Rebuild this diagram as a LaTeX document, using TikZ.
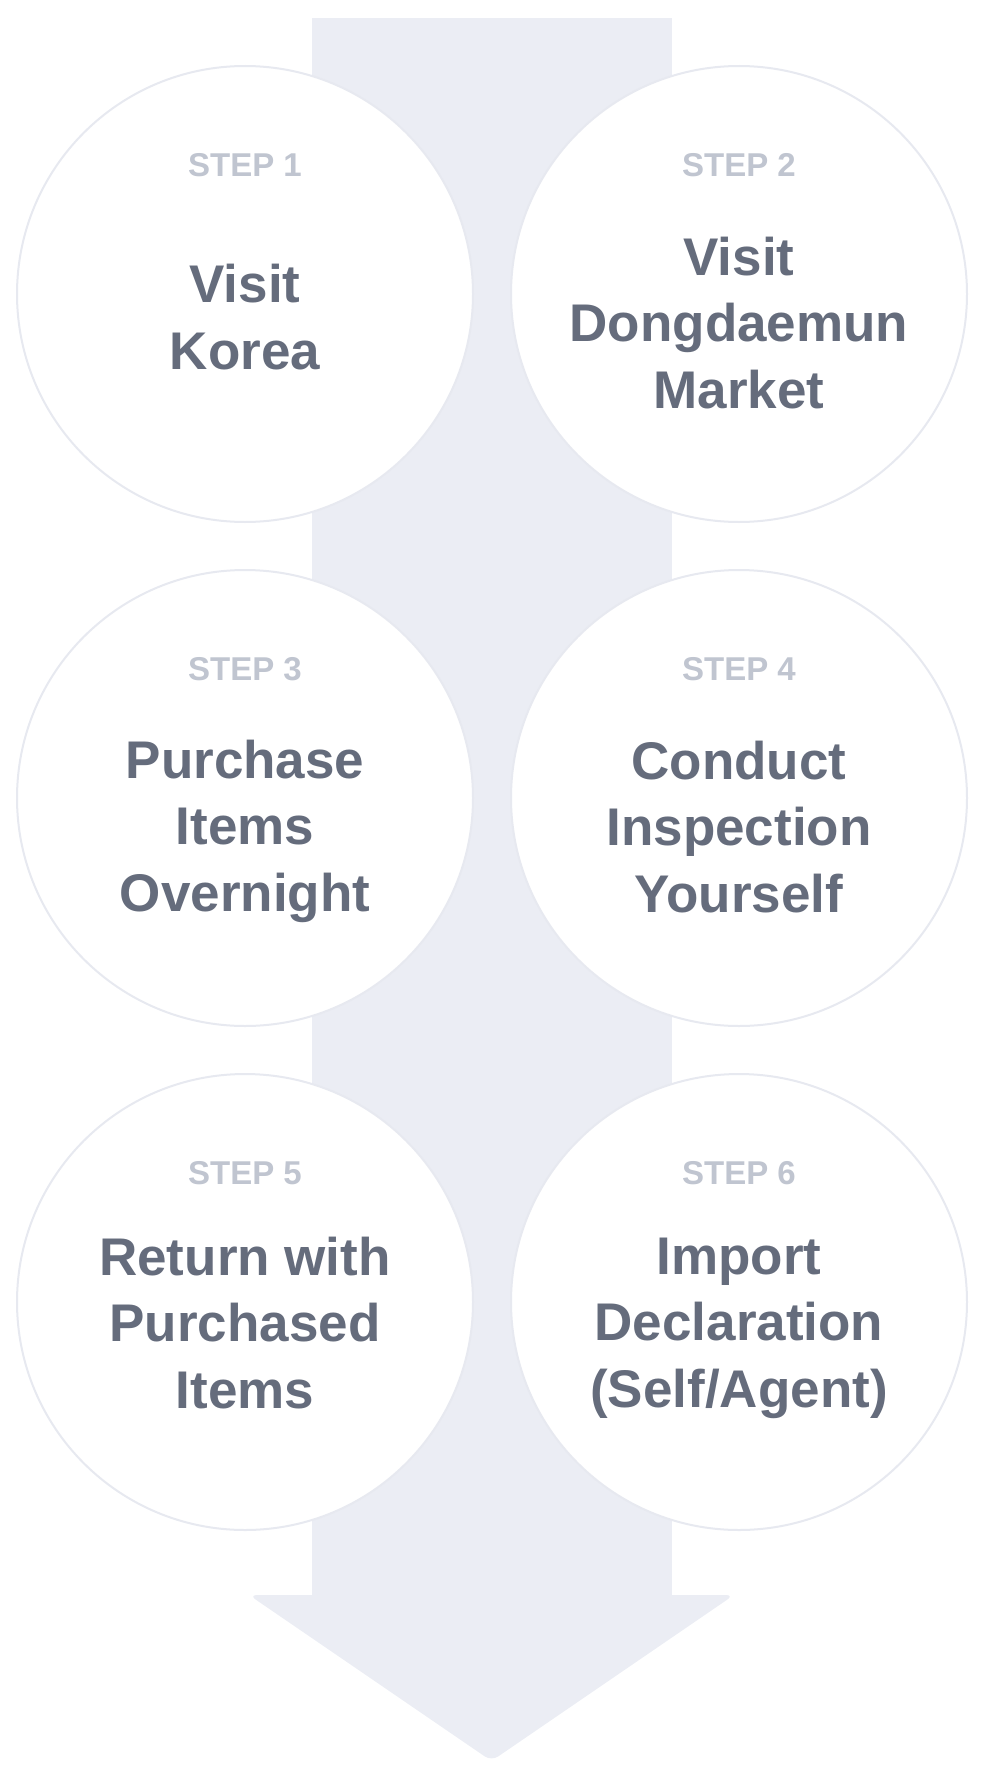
\documentclass[tikz,border=0pt]{standalone}
\usepackage{fontspec}
\setmainfont{Liberation Sans}
\definecolor{shaftcol}{HTML}{EBEDF4}
\definecolor{ringcol}{HTML}{E7E9F0}
\definecolor{titlecol}{HTML}{656C7C}
\definecolor{stepcol}{HTML}{C0C5D0}
\tikzset{
  ring/.style={circle, draw=ringcol, line width=2pt, fill=white, minimum size=456pt, inner sep=0pt},
  steplabel/.style={text=stepcol, font=\fontsize{33}{38}\selectfont\bfseries},
  titletext/.style={text=titlecol, align=center, font=\fontsize{53}{66.5}\selectfont\bfseries},
}
\begin{document}
\begin{tikzpicture}[x=1pt,y=1pt]
\useasboundingbox (0,0) rectangle (984,-1779);
% background arrow
\fill[shaftcol] (312,-18) rectangle (672,-1610);
\fill[shaftcol, rounded corners=8pt] (249,-1595) -- (734,-1595) -- (491.5,-1761) -- cycle;
% circles
\node[ring] (c1) at (245,-294) {};
\node[ring] (c2) at (739,-294) {};
\node[ring] (c3) at (245,-798) {};
\node[ring] (c4) at (739,-798) {};
\node[ring] (c5) at (245,-1302) {};
\node[ring] (c6) at (739,-1302) {};
% step labels
\node[steplabel] (s1) at (245,-165) {STEP 1};
\node[steplabel] (s2) at (739,-165) {STEP 2};
\node[steplabel] (s3) at (245,-669) {STEP 3};
\node[steplabel] (s4) at (739,-669) {STEP 4};
\node[steplabel] (s5) at (245,-1173) {STEP 5};
\node[steplabel] (s6) at (739,-1173) {STEP 6};
% titles
\node[titletext] (t1) at (245,-317) {Visit\\Korea};
\node[titletext] (t2) at (739,-323) {Visit\\Dongdaemun\\Market};
\node[titletext] (t3) at (245,-831) {Purchase\\Items\\Overnight};
\node[titletext] (t4) at (739,-827) {Conduct\\Inspection\\Yourself};
\node[titletext] (t5) at (245,-1323) {Return with\\Purchased\\Items};
\node[titletext] (t6) at (739,-1328) {Import\\Declaration\\(Self/Agent)};
\end{tikzpicture}
\end{document}
